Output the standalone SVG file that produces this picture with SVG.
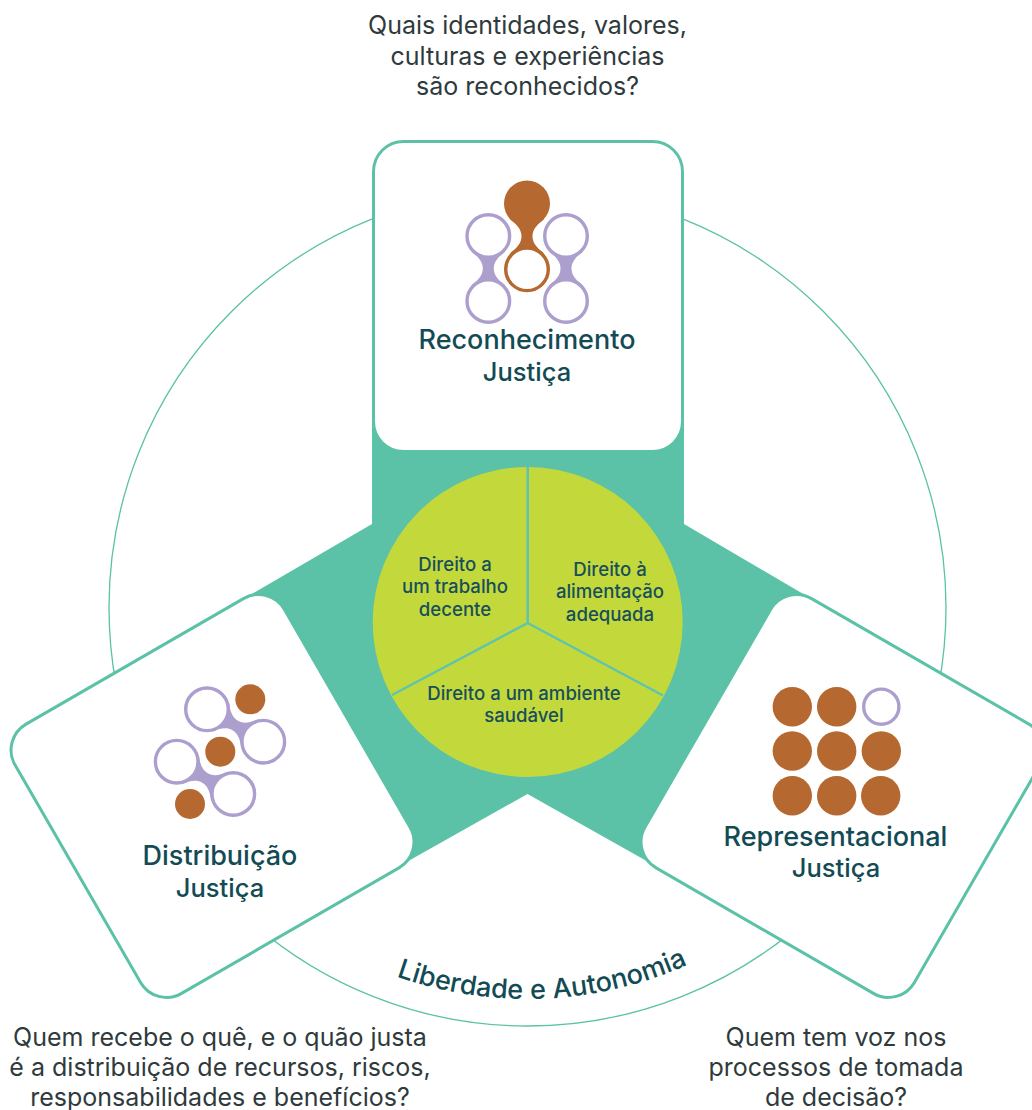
<svg xmlns="http://www.w3.org/2000/svg" xmlns:xlink="http://www.w3.org/1999/xlink" width="1032" height="1110" viewBox="0 0 1032 1110">
<style>
text{font-family:Inter,"Liberation Sans",sans-serif;text-anchor:middle}
.q{font-size:25px;fill:#2f3a3d;font-weight:400}
.t{font-size:27px;fill:#134b55;font-weight:500}
.j{font-size:25.5px;fill:#134b55;font-weight:500}
.c{font-size:27px;fill:#134b55;font-weight:500}
.i{font-size:18.6px;fill:#174f5c;font-weight:500}
.card{fill:#fff;stroke:#5bc1a7;stroke-width:3}
.br{fill:#b56830}
.pu{fill:#ac9fce}
.rp{fill:#fff;stroke:#ac9fce;stroke-width:3.4}
.rb{fill:#fff;stroke:#b56830;stroke-width:3.4}
.div{stroke:#5ec4b0;stroke-width:2.5;fill:none}
</style>
<defs>
<path id="link" d="M-17-17C-9-11-5.5-6-5.5 0C-5.5 6-9 11-17 17L17 17C9 11 5.5 6 5.5 0C5.5-6 9-11 17-17Z"/>
<path id="arc" d="M288.4 917.4A391 391 0 0 0 790.6 897.2"/>
</defs>
<g id="connectors">
<circle cx="527.5" cy="607.5" r="418.5" fill="none" stroke="#5bc1a7" stroke-width="1.3"/>
<polygon fill="#5bc1a7" points="372,422 684,422 684,524 805,595 700,780 652,864 527.5,794 403,864 300,690 250,595 372,524"/>
</g>
<g id="center">
<circle cx="527.7" cy="622" r="155" fill="#c3d93b"/>
<path class="div" d="M527.7 467V623L392 695M527.7 623L663 695.5"/>
<text class="i" x="455" y="570.5">Direito a</text>
<text class="i" x="455" y="593">um trabalho</text>
<text class="i" x="455" y="615.5">decente</text>
<text class="i" x="610" y="575.5">Direito à</text>
<text class="i" x="610" y="598">alimentação</text>
<text class="i" x="610" y="620.5">adequada</text>
<text class="i" x="524" y="699.5">Direito a um ambiente</text>
<text class="i" x="524" y="721.5">saudável</text>
</g>
<g id="card-reconhecimento">
<rect class="card" x="373.5" y="141.5" width="309" height="310" rx="30"/>
<use href="#link" class="pu" transform="translate(488.3 268.5)"/>
<use href="#link" class="pu" transform="translate(566 268.5)"/>
<use href="#link" class="br" transform="translate(527 236.3)"/>
<circle class="br" cx="527" cy="203.5" r="23"/>
<circle class="rb" cx="527" cy="269.3" r="21.3"/>
<circle class="rp" cx="488.3" cy="236" r="21.3"/>
<circle class="rp" cx="488.3" cy="301" r="21.3"/>
<circle class="rp" cx="566" cy="236" r="21.3"/>
<circle class="rp" cx="566" cy="301" r="21.3"/>
<text class="t" x="527" y="348.5">Reconhecimento</text>
<text class="j" x="527" y="380.5">Justiça</text>
</g>
<g id="card-distribuicao">
<rect class="card" x="-155.5" y="-155.5" width="311" height="311" rx="30" transform="translate(212.5 796) rotate(-30)"/>
<use href="#link" class="pu" transform="translate(235.2 725.5) rotate(-60)"/>
<use href="#link" class="pu" transform="translate(205 778) rotate(-60)"/>
<circle class="rp" cx="207" cy="709.3" r="21.3"/>
<circle class="rp" cx="263.3" cy="741.7" r="21.3"/>
<circle class="rp" cx="176.7" cy="761.7" r="21.3"/>
<circle class="rp" cx="233.3" cy="794" r="21.3"/>
<circle class="br" cx="250.3" cy="699.3" r="15"/>
<circle class="br" cx="220.3" cy="751.7" r="15"/>
<circle class="br" cx="190" cy="804" r="15"/>
<text class="t" x="220" y="865">Distribuição</text>
<text class="j" x="220" y="897">Justiça</text>
</g>
<g id="card-representacional">
<rect class="card" x="-155.5" y="-155.5" width="311" height="311" rx="30" transform="translate(842.5 796) rotate(30)"/>
<circle class="br" cx="792.3" cy="706.7" r="19.7"/>
<circle class="br" cx="836.7" cy="706.7" r="19.7"/>
<circle class="rp" cx="881.3" cy="706.7" r="17.6"/>
<circle class="br" cx="792.3" cy="751" r="19.7"/>
<circle class="br" cx="836.7" cy="751" r="19.7"/>
<circle class="br" cx="881.3" cy="751" r="19.7"/>
<circle class="br" cx="792.3" cy="795.7" r="19.7"/>
<circle class="br" cx="836.7" cy="795.7" r="19.7"/>
<circle class="br" cx="880.7" cy="795.7" r="19.7"/>
<text class="t" x="835.5" y="845.5">Representacional</text>
<text class="j" x="836" y="877">Justiça</text>
</g>
<g id="labels">
<text class="c"><textPath href="#arc" startOffset="50%">Liberdade e Autonomia</textPath></text>
<text class="q" x="527.5" y="34">Quais identidades, valores,</text>
<text class="q" x="527.5" y="64.5">culturas e experiências</text>
<text class="q" x="527.5" y="95">são reconhecidos?</text>
<text class="q" x="220" y="1046">Quem recebe o quê, e o quão justa</text>
<text class="q" x="220" y="1076">é a distribuição de recursos, riscos,</text>
<text class="q" x="220" y="1106">responsabilidades e benefícios?</text>
<text class="q" x="836" y="1046">Quem tem voz nos</text>
<text class="q" x="836" y="1076">processos de tomada</text>
<text class="q" x="836" y="1106">de decisão?</text>
</g>
</svg>
